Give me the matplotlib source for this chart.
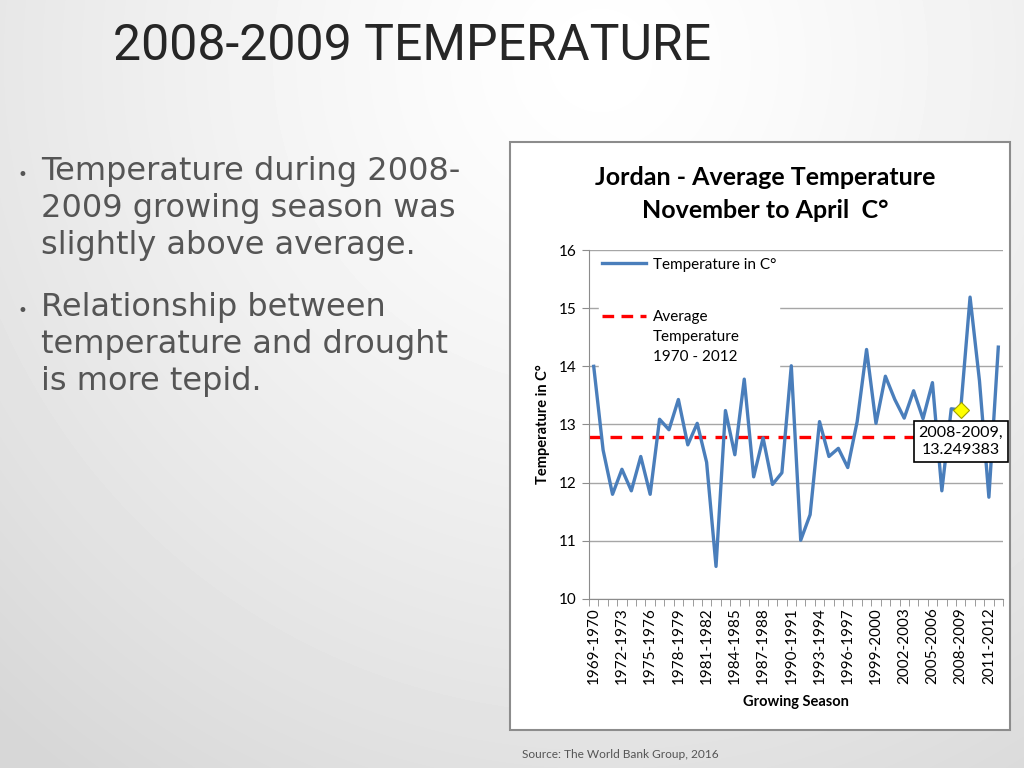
import numpy as np
import matplotlib
matplotlib.use("Agg")
import matplotlib.pyplot as plt
from matplotlib.patches import Rectangle

# Daten
start_years = list(range(1969, 2013))
seasons = [f"{y}-{y + 1}" for y in start_years]
temperature = [
    14.00, 12.56, 11.80, 12.23, 11.86, 12.45, 11.80, 13.09, 12.91, 13.43,
    12.65, 13.02, 12.35, 10.56, 13.24, 12.48, 13.78, 12.10, 12.77, 11.97,
    12.17, 14.01, 11.01, 11.45, 13.05, 12.45, 12.59, 12.26, 13.05, 14.29,
    13.02, 13.83, 13.43, 13.11, 13.58, 13.10, 13.72, 11.86, 13.27, 13.249383,
    15.19, 13.75, 11.75, 14.33,
]
average_temp = 12.79
highlight_season = "2008-2009"
y_ticks = [10, 11, 12, 13, 14, 15, 16]

BLUE = "#4a7ebb"
GRAY_TEXT = "#555555"

fig = plt.figure(figsize=(10.24, 7.68), dpi=100)

# Hintergrund mit leichtem Verlauf wie auf der Folie
bg = fig.add_axes([0, 0, 1, 1], zorder=-10)
yy, xx = np.mgrid[0:768, 0:1024]
dist = np.sqrt(((xx - 600) / 900.0) ** 2 + ((yy - 60) / 900.0) ** 2)
shade = 1.0 - 0.16 * np.clip(dist, 0, 1) ** 1.3
bg.imshow(shade, cmap="gray", vmin=0, vmax=1, aspect="auto", extent=[0, 1, 0, 1])
bg.set_axis_off()

# Folientitel und Stichpunkte
fig.text(113 / 1024, 1 - 60 / 768, "2008-2009 TEMPERATURE", fontsize=36,
         family=["Roboto", "DejaVu Sans"], fontweight="normal", color="#262626",
         va="baseline", ha="left")

bullet_lines = [
    (180, ["Temperature during 2008-", "2009 growing season was", "slightly above average."]),
    (316, ["Relationship between", "temperature and drought", "is more tepid."]),
]
for top, lines in bullet_lines:
    fig.text(18 / 1024, 1 - top / 768, "•", fontsize=12, color=GRAY_TEXT,
             family="DejaVu Sans", va="baseline")
    for k, line in enumerate(lines):
        fig.text(41 / 1024, 1 - (top + 37 * k) / 768, line, fontsize=23,
                 color=GRAY_TEXT, family="DejaVu Sans", fontweight="normal",
                 va="baseline")

fig.text(522 / 1024, 1 - 758 / 768, "Source: The World Bank Group, 2016",
         fontsize=8.6, color="#555555", family="Lato", va="baseline")

# Diagrammrahmen
fig.patches.append(Rectangle((510 / 1024, 1 - 730 / 768), 500 / 1024, 588 / 768,
                             transform=fig.transFigure, facecolor="white",
                             edgecolor="#8c8c8c", linewidth=1.5, zorder=-5))

fig.text(765 / 1024, 1 - 194 / 768, "Jordan - Average Temperature\nNovember to April  C°",
         fontsize=18, fontweight="bold", family="Lato", ha="center", va="center",
         linespacing=1.55)

ax = fig.add_axes([589 / 1024, 1 - 599 / 768, 414 / 1024, 349 / 768])
x = np.arange(len(seasons))
ax.plot(x, temperature, color=BLUE, linewidth=2.4, label="Temperature in C°", zorder=3)
ax.axhline(average_temp, color="#ff0000", linewidth=2.4, linestyle=(0, (3.5, 2.8)),
           label="Average\nTemperature\n1970 - 2012", zorder=2)

hi = seasons.index(highlight_season)
ax.plot(x[hi], temperature[hi], marker="D", markersize=8, markerfacecolor="#ffff00",
        markeredgecolor="#a0a000", markeredgewidth=0.8, zorder=4)
ax.annotate(f"{highlight_season},\n{temperature[hi]:.6f}", xy=(x[hi], temperature[hi]),
            xytext=(39.0, 12.71), textcoords="data", ha="center", va="center",
            fontsize=11.5, family="Lato", annotation_clip=False, linespacing=1.3,
            bbox=dict(boxstyle="square,pad=0.3", facecolor="white",
                      edgecolor="black", linewidth=1.2), zorder=5)

ax.set_xlim(-0.5, len(seasons) - 0.5)
ax.set_ylim(10, 16)
ax.set_yticks(y_ticks)
ax.set_yticklabels([str(t) for t in y_ticks], fontsize=11, family="Lato")
ax.set_xticks(x[::3])
ax.set_xticklabels(seasons[::3], rotation=90, fontsize=11, family="Lato")
ax.set_xticks(np.arange(-0.5, len(seasons), 1), minor=True)
ax.tick_params(axis="x", which="major", length=0, pad=6)
ax.tick_params(axis="x", which="minor", length=5, color="#8c8c8c")
ax.tick_params(axis="y", length=5, color="#8c8c8c", pad=4)
ax.grid(axis="y", color="#a6a6a6", linewidth=1.0)
ax.set_axisbelow(True)
for side in ["top", "right"]:
    ax.spines[side].set_visible(False)
for side in ["left", "bottom"]:
    ax.spines[side].set_color("#8c8c8c")

ax.set_ylabel("Temperature in C°", fontsize=10.5, fontweight="bold", family="Lato",
              labelpad=6)
ax.set_xlabel("Growing Season", fontsize=10.5, fontweight="bold", family="Lato",
              labelpad=8)

leg = ax.legend(loc="upper left", bbox_to_anchor=(0.012, 1.0), frameon=True,
                fancybox=False, framealpha=1, edgecolor="white",
                prop={"family": "Lato", "size": 11}, handlelength=2.9,
                handletextpad=0.45, labelspacing=2.5, borderaxespad=0.3,
                borderpad=0.2)
leg.set_zorder(2.5)
leg.get_texts()[1].set_linespacing(1.55)
# Strichlinie der zweiten Legende auf Höhe der ersten Textzeile
red_handle = leg.get_lines()[1]
red_handle.set_linestyle((0, (3.5, 2.2)))
red_handle.set_ydata(np.asarray(red_handle.get_ydata()) + 15.5)

fig.savefig("out.png", dpi=100)
